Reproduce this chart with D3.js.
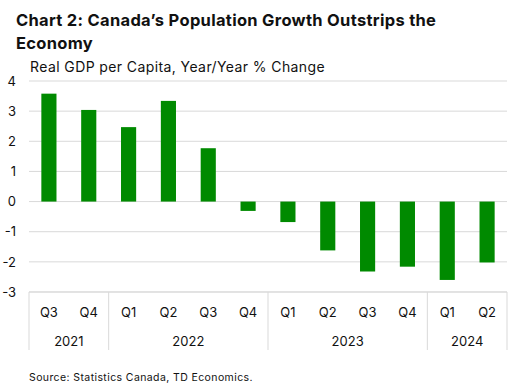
<!DOCTYPE html>
<html lang="en">
<head>
<meta charset="UTF-8">
<title>Chart 2</title>
<script src="https://d3js.org/d3.v7.min.js"></script>
<style>
  body { margin: 0; background: #fff; }
  svg text { font-family: Inter, "Noto Sans", sans-serif; fill: #111; }
  .grid line { stroke: #d9d9d9; stroke-width: 1; }
</style>
</head>
<body>
<div id="chart"></div>
<script>
// data
var quarters = ["Q3", "Q4", "Q1", "Q2", "Q3", "Q4", "Q1", "Q2", "Q3", "Q4", "Q1", "Q2"];
var years = ["2021", "2021", "2022", "2022", "2022", "2022", "2023", "2023", "2023", "2023", "2024", "2024"];
var values = [3.58, 3.04, 2.47, 3.34, 1.77, -0.31, -0.68, -1.62, -2.32, -2.16, -2.6, -2.02];
var yTicks = [4, 3, 2, 1, 0, -1, -2, -3];

var width = 515, height = 384;
var margin = {left: 29, right: 8, top: 81, bottom: 92};

var svg = d3.select("#chart").append("svg")
    .attr("width", width)
    .attr("height", height);

var x = d3.scaleBand()
    .domain(d3.range(values.length))
    .range([margin.left, width - margin.right])
    .paddingInner(0.62)
    .paddingOuter(0.31);

var y = d3.scaleLinear()
    .domain([-3, 4])
    .range([height - margin.bottom, margin.top]);

// gridlines
svg.append("g").attr("class", "grid")
    .selectAll("line")
    .data(yTicks)
    .enter().append("line")
    .attr("x1", margin.left)
    .attr("x2", width - margin.right)
    .attr("y1", function(d) { return y(d); })
    .attr("y2", function(d) { return y(d); });

// y labels
svg.append("g")
    .selectAll("text")
    .data(yTicks)
    .enter().append("text")
    .attr("x", 16)
    .attr("y", function(d) { return y(d); })
    .attr("dy", "0.36em")
    .attr("text-anchor", "end")
    .style("font-size", "13px")
    .text(function(d) { return d; });

// bars
svg.append("g")
    .selectAll("rect")
    .data(values)
    .enter().append("rect")
    .attr("x", function(d, i) { return x(i); })
    .attr("width", x.bandwidth())
    .attr("y", function(d) { return y(Math.max(0, d)); })
    .attr("height", function(d) { return Math.abs(y(d) - y(0)); })
    .attr("fill", "#008a00");

// category axis (quarters + years in a box)
var step = x.step();
var left = margin.left, right = width - margin.right;
var axisTop = y(-3);
svg.append("line")
    .attr("x1", left).attr("x2", right)
    .attr("y1", axisTop).attr("y2", axisTop)
    .attr("stroke", "#d9d9d9");

svg.append("g")
    .selectAll("text")
    .data(quarters)
    .enter().append("text")
    .attr("x", function(d, i) { return x(i) + x.bandwidth() / 2; })
    .attr("y", 317)
    .attr("text-anchor", "middle")
    .style("font-size", "13px")
    .text(function(d) { return d; });

// group years
var groups = [];
years.forEach(function(yr, i) {
    var g = groups[groups.length - 1];
    if (g && g.year === yr) g.end = i;
    else groups.push({year: yr, start: i, end: i});
});

var xEdge = function(i) { return x(i) - x.paddingInner() * step / 2; };

svg.append("g")
    .selectAll("line")
    .data(groups.map(function(g) { return g.start; }).concat([values.length]))
    .enter().append("line")
    .attr("x1", function(d) { return d === values.length ? right : xEdge(d); })
    .attr("x2", function(d) { return d === values.length ? right : xEdge(d); })
    .attr("y1", axisTop)
    .attr("y2", 350)
    .attr("stroke", "#d9d9d9");

svg.append("g")
    .selectAll("text")
    .data(groups)
    .enter().append("text")
    .attr("x", function(g) {
        var a = xEdge(g.start);
        var b = g.end + 1 === values.length ? right : xEdge(g.end + 1);
        return (a + b) / 2;
    })
    .attr("y", 346)
    .attr("text-anchor", "middle")
    .style("font-size", "13px")
    .text(function(g) { return g.year; });

// titles
svg.append("text")
    .attr("x", 16).attr("y", 26)
    .style("font-size", "16.5px").style("font-weight", "bold")
    .style("letter-spacing", "0.3px")
    .text("Chart 2: Canada\u2019s Population Growth Outstrips the");
svg.append("text")
    .attr("x", 16).attr("y", 49)
    .style("font-size", "16.5px").style("font-weight", "bold")
    .style("letter-spacing", "0.3px")
    .text("Economy");
svg.append("text")
    .attr("x", 30).attr("y", 72)
    .style("font-size", "14px")
    .style("letter-spacing", "0.4px")
    .text("Real GDP per Capita, Year/Year % Change");
svg.append("text")
    .attr("x", 29).attr("y", 381)
    .style("font-size", "10.5px")
    .style("letter-spacing", "0.4px")
    .text("Source: Statistics Canada, TD Economics.");
</script>
</body>
</html>
